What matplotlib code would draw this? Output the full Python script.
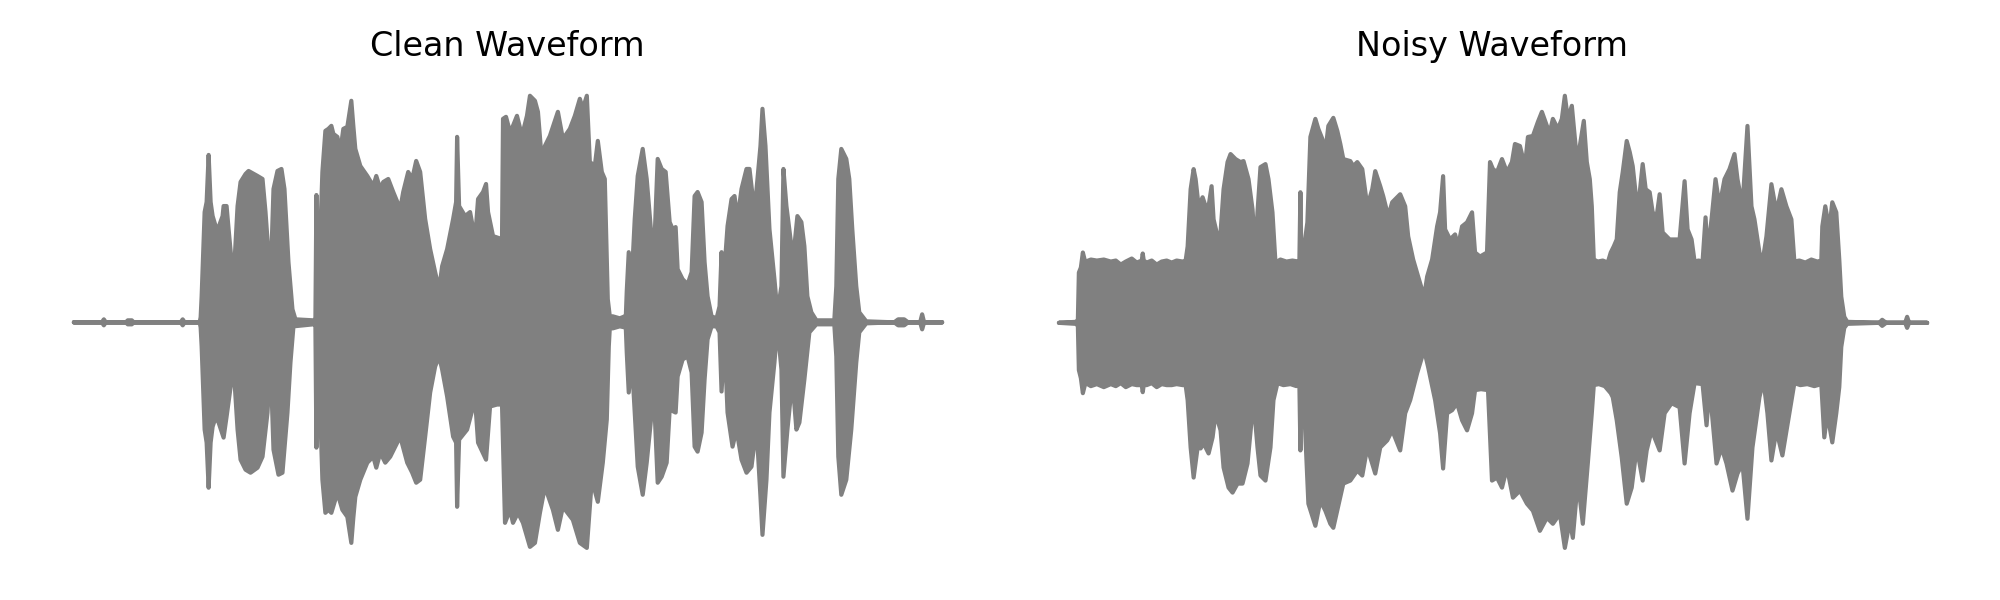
import numpy as np
import matplotlib
matplotlib.use("Agg")
import matplotlib.pyplot as plt

# Envelope of each waveform.
# x: frame index along the recording, amplitude: arbitrary units (positive = upper envelope)
clean_up_x = [0, 28, 30, 32, 52, 54, 58, 60, 107, 109, 111, 126, 127, 128, 131, 133, 135, 137, 139, 142,
              145, 149, 150, 153, 155, 159, 160, 164, 167, 172, 175, 184, 189, 192, 197, 200, 204, 208, 211, 215,
              219, 222, 240, 242, 243, 244, 245, 249, 252, 255, 258, 260, 264, 267, 270, 274, 278, 280, 282, 287,
              294, 300, 303, 307, 310, 315, 320, 327, 330, 335, 339, 343, 347, 352, 357, 362, 366, 369, 374, 380,
              383, 384, 386, 392, 397, 402, 405, 410, 413, 415, 420, 429, 430, 433, 437, 440, 444, 449, 454, 457,
              462, 465, 469, 472, 477, 485, 490, 497, 502, 507, 510, 514, 517, 522, 525, 529, 532, 535, 537, 540,
              547, 552, 553, 554, 556, 559, 562, 565, 570, 574, 579, 582, 585, 589, 593, 597, 600, 603, 605, 610,
              615, 619, 622, 625, 629, 632, 635, 639, 644, 647, 649, 650, 655, 659, 662, 665, 669, 674, 677, 682,
              685, 688, 690, 693, 697, 702, 705, 709, 711, 714, 719, 722, 725, 729, 732, 735, 739, 744, 762, 764,
              766, 769, 774, 777, 780, 784, 787, 794, 822, 826, 832, 836, 848, 850, 852, 870]
clean_up_y = [0, 0, 3, 0, 0, 2, 2, 0, 0, 3, 0, 0, 5, 26, 110, 120, 167, 120, 106, 96,
              95, 106, 116, 116, 93, 50, 43, 116, 140, 148, 151, 146, 143, 110, 40, 133, 151, 153, 133, 60,
              13, 3, 2, 3, 127, 5, 33, 150, 191, 193, 196, 188, 185, 171, 193, 195, 221, 196, 173, 156,
              146, 136, 146, 133, 140, 143, 130, 113, 130, 150, 143, 161, 150, 103, 73, 50, 33, 56, 73, 103,
              120, 185, 116, 106, 110, 83, 123, 130, 138, 110, 86, 83, 203, 205, 190, 196, 206, 186, 206, 226,
              221, 210, 160, 176, 186, 210, 183, 193, 206, 223, 213, 226, 160, 156, 181, 150, 143, 23, 6, 6,
              4, 6, 4, 31, 70, 43, 103, 146, 173, 143, 83, 86, 163, 153, 150, 100, 93, 95, 53, 43,
              38, 50, 126, 130, 120, 60, 26, 6, 4, 16, 70, 26, 96, 123, 126, 103, 133, 153, 153, 110,
              143, 176, 213, 176, 93, 43, 10, 36, 153, 116, 76, 76, 106, 100, 76, 26, 10, 2, 2, 36,
              143, 173, 163, 143, 93, 36, 10, 1, 0, 3, 3, 0, 0, 8, 0, 0]

clean_lo_x = [0, 28, 30, 32, 52, 54, 58, 60, 107, 109, 111, 126, 127, 128, 131, 133, 135, 137, 139, 142,
              145, 150, 153, 159, 160, 164, 167, 172, 177, 184, 189, 194, 197, 200, 205, 209, 214, 217, 220, 240,
              242, 243, 244, 245, 249, 252, 255, 258, 264, 269, 274, 278, 280, 282, 287, 294, 300, 303, 307, 312,
              317, 327, 334, 339, 343, 347, 352, 357, 362, 366, 369, 374, 380, 383, 384, 386, 394, 402, 405, 413,
              417, 424, 429, 432, 437, 440, 445, 450, 457, 462, 467, 472, 480, 485, 490, 500, 507, 514, 519, 525,
              530, 534, 536, 537, 540, 547, 552, 553, 554, 556, 559, 562, 565, 570, 574, 579, 582, 585, 589, 594,
              597, 603, 605, 610, 615, 619, 622, 625, 629, 632, 635, 639, 644, 647, 649, 652, 655, 660, 664, 669,
              674, 679, 684, 688, 690, 694, 697, 702, 705, 709, 711, 715, 720, 724, 727, 732, 737, 744, 762, 764,
              766, 769, 774, 779, 784, 787, 794, 822, 826, 832, 836, 848, 850, 852, 870]
clean_lo_y = [0, 0, -3, 0, 0, -2, -2, 0, 0, -3, 0, 0, -5, -24, -107, -120, -165, -120, -104, -95,
              -100, -115, -94, -50, -44, -107, -137, -147, -150, -145, -134, -90, -37, -127, -152, -150, -90, -40, -4, -2,
              -3, -125, -5, -30, -157, -190, -187, -190, -170, -187, -194, -220, -195, -174, -157, -140, -134, -145, -130, -140,
              -134, -114, -140, -150, -160, -157, -114, -70, -44, -34, -47, -74, -114, -120, -184, -117, -107, -77, -120, -137,
              -84, -82, -82, -200, -187, -200, -190, -200, -224, -220, -190, -164, -187, -207, -184, -197, -220, -225, -157, -179,
              -140, -97, -24, -6, -6, -4, -5, -4, -30, -70, -37, -90, -144, -172, -140, -90, -90, -160, -154, -140,
              -87, -90, -54, -37, -34, -50, -124, -129, -110, -57, -17, -4, -4, -10, -69, -17, -90, -124, -107, -137,
              -150, -144, -104, -174, -212, -157, -90, -40, -4, -47, -154, -107, -57, -107, -100, -57, -10, -2, -2, -34,
              -134, -172, -157, -107, -40, -10, -1, 0, -3, -3, 0, 0, -7, 0, 0]

noisy_up_x = [0, 17, 19, 20, 22, 24, 26, 27, 32, 38, 45, 52, 57, 62, 67, 73, 78, 83, 84, 85,
              88, 93, 98, 103, 108, 113, 118, 124, 127, 129, 132, 135, 137, 140, 144, 147, 150, 153, 155, 159,
              162, 165, 169, 172, 177, 182, 185, 190, 194, 197, 199, 202, 207, 210, 214, 217, 222, 228, 234, 240,
              241, 242, 243, 245, 249, 252, 257, 260, 264, 267, 270, 275, 279, 282, 285, 292, 295, 299, 304, 309,
              314, 317, 322, 325, 330, 334, 337, 342, 347, 350, 355, 360, 366, 369, 374, 379, 382, 385, 387, 392,
              397, 400, 404, 409, 414, 417, 422, 429, 432, 435, 439, 444, 449, 454, 457, 462, 467, 470, 475, 480,
              484, 489, 492, 495, 500, 504, 507, 510, 514, 519, 522, 526, 529, 532, 534, 536, 540, 545, 550, 553,
              556, 559, 562, 565, 569, 572, 575, 580, 585, 588, 592, 595, 599, 602, 605, 612, 617, 622, 627, 630,
              634, 637, 641, 645, 648, 650, 654, 658, 662, 667, 672, 677, 680, 685, 690, 694, 697, 702, 705, 709,
              714, 719, 724, 729, 734, 737, 742, 748, 754, 760, 764, 765, 768, 772, 775, 779, 782, 784, 787, 790,
              822, 825, 829, 848, 850, 852, 870]
noisy_up_y = [0, 1, 3, 50, 55, 70, 62, 61, 63, 62, 63, 61, 62, 58, 61, 64, 60, 62, 69, 62,
              60, 62, 58, 61, 62, 60, 62, 61, 62, 76, 133, 153, 143, 116, 125, 116, 116, 136, 103, 86,
              90, 133, 160, 168, 163, 160, 161, 143, 113, 70, 110, 155, 158, 143, 110, 60, 63, 61, 62, 61,
              63, 130, 63, 70, 100, 185, 203, 193, 183, 170, 196, 204, 191, 178, 163, 161, 156, 160, 153, 116,
              133, 151, 136, 126, 106, 120, 123, 128, 116, 86, 63, 46, 26, 46, 63, 96, 110, 146, 93, 83,
              88, 76, 96, 100, 110, 70, 66, 70, 160, 153, 150, 163, 150, 160, 178, 176, 156, 185, 186, 200,
              210, 196, 190, 203, 193, 203, 226, 203, 216, 163, 176, 201, 160, 143, 116, 63, 61, 62, 60, 70,
              76, 83, 130, 150, 181, 170, 156, 110, 158, 133, 130, 110, 106, 128, 90, 83, 83, 83, 141, 93,
              83, 61, 62, 61, 105, 70, 103, 143, 116, 143, 153, 168, 143, 116, 196, 116, 103, 70, 60, 86,
              138, 110, 133, 116, 103, 61, 62, 60, 63, 61, 62, 96, 116, 93, 120, 110, 63, 26, 6, 1,
              0, 3, 0, 0, 6, 0, 0]

noisy_lo_x = [0, 17, 19, 20, 22, 24, 26, 27, 32, 38, 45, 52, 57, 62, 67, 73, 78, 83, 84, 85,
              88, 93, 98, 103, 108, 113, 118, 124, 127, 129, 132, 135, 139, 142, 145, 150, 154, 157, 162, 165,
              170, 174, 179, 184, 189, 195, 199, 202, 207, 212, 215, 219, 225, 232, 238, 241, 242, 243, 245, 250,
              257, 262, 267, 272, 275, 280, 285, 292, 299, 304, 309, 317, 322, 329, 334, 342, 347, 352, 359, 366,
              370, 377, 382, 385, 389, 394, 399, 404, 409, 414, 417, 423, 430, 434, 439, 444, 449, 455, 462, 469,
              475, 482, 489, 495, 502, 507, 512, 515, 520, 525, 530, 534, 536, 541, 547, 553, 555, 559, 564, 569,
              574, 579, 585, 589, 594, 602, 607, 614, 622, 627, 632, 637, 645, 649, 652, 659, 664, 669, 675, 680,
              685, 690, 695, 702, 706, 710, 714, 719, 725, 732, 737, 743, 750, 757, 764, 767, 770, 775, 779, 782,
              784, 787, 790, 822, 825, 829, 848, 850, 852, 870]
noisy_lo_y = [0, -1, -3, -47, -55, -70, -62, -60, -63, -61, -64, -61, -63, -60, -64, -61, -62, -62, -69, -62,
              -62, -60, -64, -61, -62, -62, -61, -62, -62, -77, -124, -154, -124, -125, -120, -130, -114, -90, -107, -144,
              -164, -169, -160, -160, -140, -77, -124, -152, -157, -124, -77, -60, -62, -61, -63, -62, -127, -62, -67, -180,
              -202, -177, -187, -200, -204, -182, -160, -157, -147, -152, -124, -150, -124, -117, -107, -127, -90, -77, -50, -27,
              -44, -77, -110, -145, -90, -87, -80, -97, -107, -90, -67, -66, -67, -157, -154, -164, -144, -174, -167, -180,
              -187, -207, -194, -200, -190, -224, -197, -214, -157, -200, -140, -90, -62, -61, -63, -70, -74, -97, -134, -180,
              -164, -124, -157, -127, -107, -127, -90, -80, -84, -140, -90, -60, -61, -102, -64, -140, -124, -140, -167, -150,
              -140, -195, -124, -74, -57, -90, -137, -107, -132, -90, -60, -62, -61, -63, -61, -114, -90, -119, -90, -64,
              -24, -5, -1, 0, -3, 0, 0, -5, 0, 0]

titles = ["Clean Waveform", "Noisy Waveform"]
panels = [(clean_up_x, clean_up_y, clean_lo_x, clean_lo_y),
          (noisy_up_x, noisy_up_y, noisy_lo_x, noisy_lo_y)]

fig, axes = plt.subplots(1, 2, figsize=(10, 3), dpi=200)
for ax, title, (ux, uy, lx, ly) in zip(axes, titles, panels):
    ax.fill_between(np.array(ux), 0, np.array(uy), color="gray", lw=1.5, joinstyle="round")
    ax.fill_between(np.array(lx), np.array(ly), 0, color="gray", lw=1.5, joinstyle="round")
    ax.set_title(title)
    ax.axis("off")
fig.tight_layout()
fig.savefig("out.png", dpi=200)
